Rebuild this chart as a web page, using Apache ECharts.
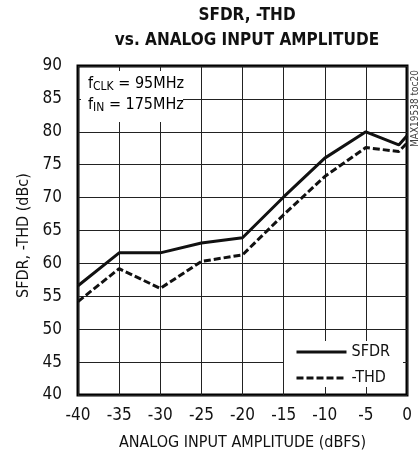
<!DOCTYPE html>
<html>
<head>
<meta charset="utf-8">
<script src="https://cdn.jsdelivr.net/npm/echarts@6/dist/echarts.min.js"></script>
<style>
  html, body { margin: 0; padding: 0; background: #fff; }
  #chart { width: 420px; height: 457px; }
</style>
</head>
<body>
<div id="chart"></div>
<script>
const FONT = "'Liberation Sans Narrow', 'DejaVu Sans Condensed', sans-serif";

// x values in dBFS
const amplitude = [-40, -35, -30, -25, -20, -15, -10, -5, -1, 0];
const sfdr = [56.6, 61.6, 61.6, 63.1, 63.9, 70.1, 76.0, 80.0, 78.0, 79.4];
const thd  = [54.2, 59.2, 56.2, 60.3, 61.3, 67.4, 73.2, 77.6, 77.0, 78.3];

const xTicks = [-40, -35, -30, -25, -20, -15, -10, -5, 0];
const yTicks = [40, 45, 50, 55, 60, 65, 70, 75, 80, 85, 90];

const chartDom = document.getElementById('chart');
const myChart = echarts.init(chartDom);

const pairs = (xs, ys) => xs.map((x, i) => [x, ys[i]]);

const option = {
  animation: false,
  title: {
    text: 'SFDR, -THD\nvs. ANALOG INPUT AMPLITUDE',
    left: 242,
    textAlign: 'center',
    top: -2,
    textStyle: {
      fontFamily: FONT,
      fontWeight: 'bold',
      fontSize: 17,
      lineHeight: 25,
      color: '#111'
    }
  },
  grid: {
    left: 78,
    right: 13,
    top: 66,
    bottom: 62,
    show: true,
    borderColor: '#000',
    borderWidth: 3,
    containLabel: false
  },
  legend: {
    orient: 'vertical',
    right: 17,
    bottom: 70,
    itemWidth: 50,
    itemHeight: 18,
    itemGap: 10,
    padding: [3, 13, 1, 11],
    backgroundColor: '#fff',
    itemStyle: { opacity: 0 },
    lineStyle: { width: 3 },
    textStyle: { fontFamily: FONT, fontSize: 16, color: '#111' },
    data: ['SFDR', '-THD']
  },
  xAxis: {
    type: 'value',
    min: -40,
    max: 0,
    interval: 5,
    name: 'ANALOG INPUT AMPLITUDE (dBFS)',
    nameLocation: 'middle',
    nameGap: 40,
    nameTextStyle: { fontFamily: FONT, fontSize: 16, color: '#111' },
    axisLine: { show: false },
    axisTick: { show: false },
    axisLabel: {
      margin: 12,
      fontFamily: FONT,
      fontSize: 17,
      color: '#111',
      formatter: v => xTicks.includes(v) ? String(v) : ''
    },
    splitLine: { show: true, lineStyle: { color: '#222', width: 1 } }
  },
  yAxis: {
    type: 'value',
    min: 40,
    max: 90,
    interval: 5,
    name: 'SFDR, -THD (dBc)',
    nameLocation: 'middle',
    nameGap: 46,
    nameTextStyle: { fontFamily: FONT, fontSize: 16, color: '#111', padding: [0, 10, 0, 0] },
    axisLine: { show: false },
    axisTick: { show: false },
    axisLabel: {
      margin: 16,
      fontFamily: FONT,
      fontSize: 17,
      color: '#111',
      formatter: v => yTicks.includes(v) ? String(v) : ''
    },
    splitLine: { show: true, lineStyle: { color: '#222', width: 1 } }
  },
  series: [
    {
      name: 'SFDR',
      type: 'line',
      data: pairs(amplitude, sfdr),
      showSymbol: false,
      symbol: 'none',
      lineStyle: { color: '#111', width: 3 },
      itemStyle: { color: '#111' },
      z: 3
    },
    {
      name: '-THD',
      type: 'line',
      data: pairs(amplitude, thd),
      showSymbol: false,
      symbol: 'none',
      lineStyle: { color: '#111', width: 3, type: [7, 3] },
      itemStyle: { color: '#111' },
      z: 3
    }
  ],
  graphic: [
    {
      type: 'rect',
      shape: { x: 81, y: 71, width: 102, height: 51 },
      style: { fill: '#fff' },
      z: 10
    },
    {
      type: 'text',
      left: 88,
      top: 75,
      z: 11,
      style: {
        text: '{f|f}{s|CLK}{f| = 95MHz}\n{f|f}{s|IN}{f| = 175MHz}',
        rich: {
          f: { fontFamily: FONT, fontSize: 16, color: '#111', lineHeight: 21 },
          s: { fontFamily: FONT, fontSize: 12, color: '#111', lineHeight: 21, padding: [6, 0, 0, 0] }
        }
      }
    },
    {
      type: 'text',
      x: 410,
      y: 147,
      rotation: Math.PI / 2,
      z: 11,
      style: {
        text: 'MAX19538 toc20',
        fontFamily: FONT,
        fontSize: 10,
        fill: '#444',
        verticalAlign: 'top'
      }
    }
  ]
};

myChart.setOption(option);
</script>
</body>
</html>
